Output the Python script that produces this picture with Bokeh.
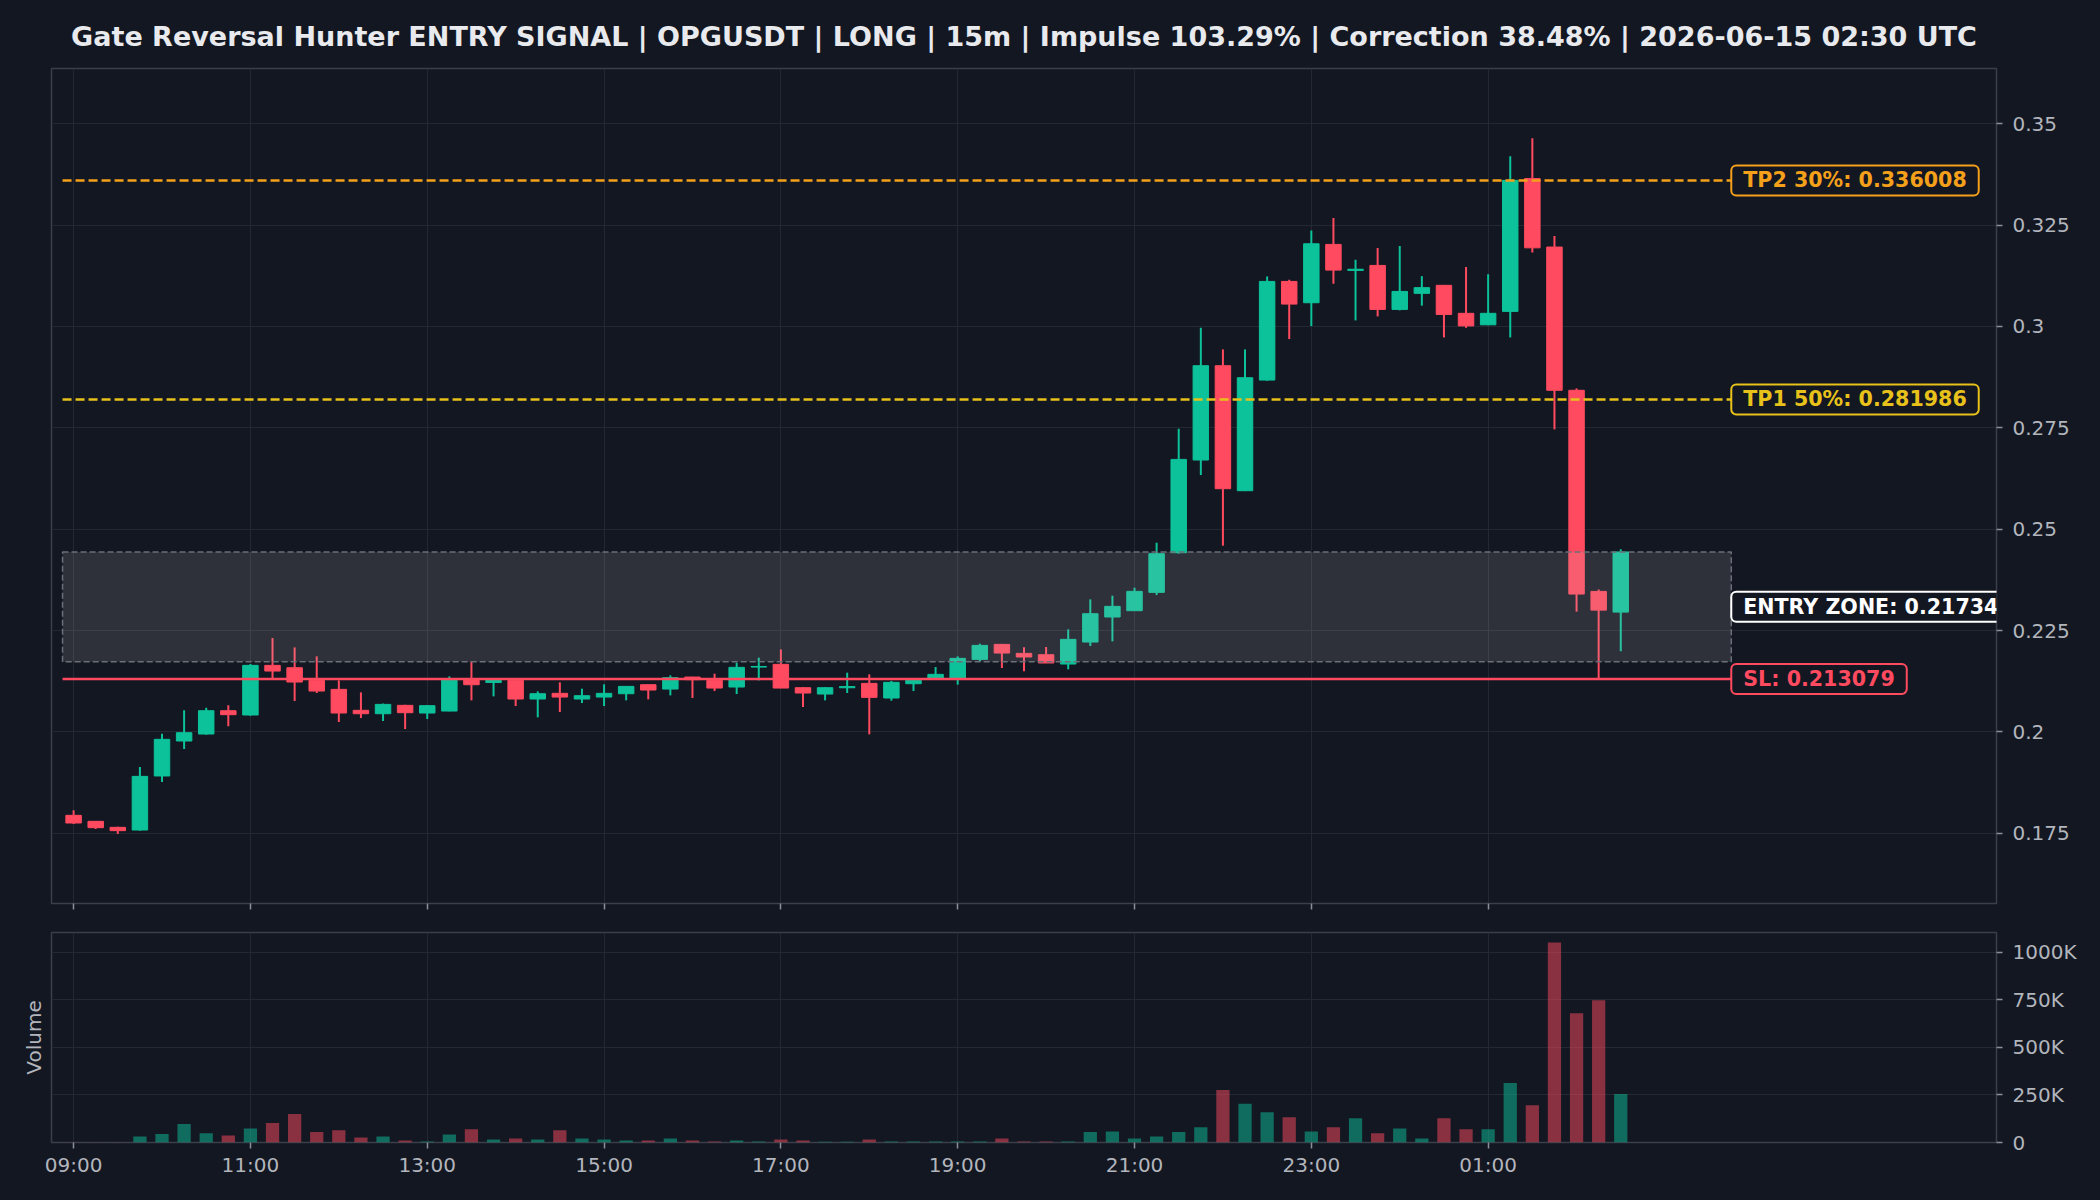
from bokeh.plotting import figure
from bokeh.models import Range1d, FixedTicker, LinearAxis
from bokeh.layouts import column
from bokeh.embed import file_html
from bokeh.resources import INLINE
from bokeh.core.properties import value

# ---------------- data ----------------
opens = [0.17944, 0.17796, 0.17648, 0.17582, 0.18914, 0.19777, 0.19949, 0.20524, 0.20418, 0.21642,
         0.21584, 0.21272, 0.21050, 0.20533, 0.20450, 0.20656, 0.20467, 0.20516, 0.21313, 0.21220,
         0.21272, 0.20812, 0.20952, 0.20812, 0.20861, 0.20943, 0.21165, 0.21058, 0.21354, 0.21272,
         0.21108, 0.21600, 0.21667, 0.21091, 0.20935, 0.21090, 0.21198, 0.20837, 0.21190, 0.21314,
         0.21314, 0.21790, 0.22160, 0.21938, 0.21905, 0.21675, 0.22217, 0.22834, 0.22990, 0.23442,
         0.24420, 0.26705, 0.29031, 0.25949, 0.28677, 0.31110, 0.30584, 0.32022, 0.31380, 0.31504,
         0.30419, 0.30815, 0.31013, 0.30323, 0.30040, 0.30371, 0.33648, 0.31957, 0.28425, 0.23466,
         0.22956]
highs = [0.18067, 0.17800, 0.17660, 0.19136, 0.19957, 0.20533, 0.20598, 0.20656, 0.21675, 0.22316,
         0.22086, 0.21864, 0.21272, 0.20976, 0.20700, 0.20670, 0.20660, 0.21371, 0.21741, 0.21300,
         0.21280, 0.21001, 0.21223, 0.21067, 0.21174, 0.21130, 0.21170, 0.21395, 0.21360, 0.21437,
         0.21708, 0.21831, 0.22036, 0.21100, 0.21100, 0.21461, 0.21420, 0.21260, 0.21280, 0.21601,
         0.21864, 0.22176, 0.22170, 0.22086, 0.22094, 0.22530, 0.23269, 0.23360, 0.23557, 0.24666,
         0.27477, 0.29967, 0.29433, 0.29433, 0.31233, 0.31151, 0.32367, 0.32671, 0.31644, 0.31931,
         0.31981, 0.31240, 0.31020, 0.31466, 0.31287, 0.34196, 0.34640, 0.32231, 0.28472, 0.23513,
         0.24505]
lows = [0.17730, 0.17607, 0.17484, 0.17566, 0.18766, 0.19579, 0.19930, 0.20138, 0.20400, 0.21289,
        0.20763, 0.20960, 0.20245, 0.20343, 0.20270, 0.20072, 0.20319, 0.20510, 0.20779, 0.20878,
        0.20639, 0.20360, 0.20491, 0.20713, 0.20639, 0.20779, 0.20804, 0.20902, 0.20837, 0.21009,
        0.20935, 0.21272, 0.21080, 0.20615, 0.20779, 0.20960, 0.19941, 0.20770, 0.21009, 0.21310,
        0.21166, 0.21749, 0.21576, 0.21494, 0.21700, 0.21544, 0.22119, 0.22234, 0.22990, 0.23376,
        0.24400, 0.26335, 0.24593, 0.25940, 0.28660, 0.29688, 0.30008, 0.31052, 0.30148, 0.30247,
        0.30395, 0.30512, 0.29728, 0.29965, 0.30030, 0.29728, 0.31825, 0.27461, 0.22966, 0.21310,
        0.21990]
closes = [0.17755, 0.17640, 0.17566, 0.18905, 0.19818, 0.19982, 0.20524, 0.20426, 0.21642, 0.21502,
          0.21231, 0.21009, 0.20467, 0.20450, 0.20680, 0.20475, 0.20648, 0.21313, 0.21165, 0.21270,
          0.20812, 0.20943, 0.20861, 0.20894, 0.20952, 0.21124, 0.21034, 0.21338, 0.21289, 0.21083,
          0.21593, 0.21615, 0.21083, 0.20960, 0.21091, 0.21120, 0.20853, 0.21223, 0.21272, 0.21420,
          0.21815, 0.22135, 0.21946, 0.21848, 0.21700, 0.22283, 0.22916, 0.23097, 0.23467, 0.24395,
          0.26721, 0.29031, 0.25998, 0.28735, 0.31110, 0.30551, 0.32038, 0.31389, 0.31410, 0.30419,
          0.30863, 0.30956, 0.30295, 0.30012, 0.30323, 0.33601, 0.31938, 0.28425, 0.23400, 0.23004,
          0.24439]
volumes = [1500, 1200, 1000, 32000, 44000, 97000, 48000, 37000, 74000, 102000,
           150000, 55000, 64000, 26500, 32000, 10600, 5000, 42000, 69000, 16000,
           21000, 16000, 64000, 21000, 16000, 10600, 10600, 21000, 10600, 5000,
           10600, 5000, 16000, 10600, 4000, 4000, 16000, 5000, 5000, 5000,
           5000, 5000, 21000, 5000, 5000, 5000, 55000, 58000, 21000, 32000,
           55000, 80000, 276000, 203000, 159000, 133000, 58000, 80000, 127000, 48000,
           74000, 21000, 127000, 69000, 69000, 313000, 196000, 1050000, 679000, 747000,
           254000]

x_tick_pos = [0, 8, 16, 24, 32, 40, 48, 56, 64]
x_tick_labels = ["09:00", "11:00", "13:00", "15:00", "17:00", "19:00", "21:00", "23:00", "01:00"]
y_ticks = [0.175, 0.2, 0.225, 0.25, 0.275, 0.3, 0.325, 0.35]
y_tick_labels = ["0.175", "0.2", "0.225", "0.25", "0.275", "0.3", "0.325", "0.35"]
vol_ticks = [0, 250000, 500000, 750000, 1000000]
vol_tick_labels = ["0", "250K", "500K", "750K", "1000K"]

tp2 = 0.336008
tp1 = 0.281986
sl = 0.213079
entry_low = 0.21734
entry_high = 0.24439

title = ("Gate Reversal Hunter ENTRY SIGNAL | OPGUSDT | LONG | 15m | Impulse 103.29% | "
         "Correction 38.48% | 2026-06-15 02:30 UTC")

# ---------------- style ----------------
BG = "#131722"
GREEN = "#0cc29a"
RED = "#ff4a5f"
ORANGE = "#f5a01a"
YELLOW = "#e8c21a"
GRID = "#242832"
FRAME = "#3a3f4a"
TICKC = "#b2b5bc"
FONT = "DejaVu Sans"

xs = list(range(len(opens)))
colors = [GREEN if c >= o else RED for o, c in zip(opens, closes)]
tops = [max(o, c) for o, c in zip(opens, closes)]
bottoms = [min(o, c) for o, c in zip(opens, closes)]

x_range = Range1d(-1, 87)

p = figure(width=2100, height=920, x_range=x_range, y_range=Range1d(0.1577, 0.3636),
           output_backend="svg", toolbar_location=None, y_axis_location="right",
           min_border_left=51, min_border_right=104, min_border_top=68, min_border_bottom=17,
           background_fill_color=BG, border_fill_color=BG, outline_line_color=FRAME,
           outline_line_width=1.5)
p.title.text = title
p.title.text_font = FONT
p.title.text_font_size = "27px"
p.title.text_font_style = "bold"
p.title.text_color = "#e8eaed"
p.title.align = "center"
p.title.standoff = 33

# main x axis: tick marks only (labels not drawn)
p.xaxis.ticker = FixedTicker(ticks=x_tick_pos)
p.xaxis.major_label_text_color = None
p.xaxis.major_label_text_font_size = "2px"
p.xaxis.major_label_standoff = 0
p.xaxis.axis_line_color = None
p.xaxis.major_tick_line_color = "#8a8f98"
p.xaxis.major_tick_line_width = 1.5
p.xaxis.major_tick_out = 6
p.xaxis.major_tick_in = 0
p.xaxis.minor_tick_line_color = None

p.yaxis.ticker = FixedTicker(ticks=y_ticks)
p.yaxis.major_label_overrides = dict(zip(y_ticks, y_tick_labels))
p.yaxis.axis_line_color = None
p.yaxis.major_tick_line_color = "#8a8f98"
p.yaxis.major_tick_line_width = 1.5
p.yaxis.major_tick_out = 6
p.yaxis.major_tick_in = 0
p.yaxis.minor_tick_line_color = None
p.yaxis.major_label_text_font = FONT
p.yaxis.major_label_text_font_size = "20px"
p.yaxis.major_label_text_color = TICKC
p.yaxis.major_label_standoff = 10

p.xgrid.grid_line_color = GRID
p.ygrid.grid_line_color = GRID

# candles
p.segment(x0=xs, y0=lows, x1=xs, y1=highs, line_color=colors, line_width=2)
p.vbar(x=xs, width=0.7, top=tops, bottom=bottoms, fill_color=colors, line_color=colors, line_width=1)

# entry zone
p.quad(left=[-0.5], right=[75], bottom=[entry_low], top=[entry_high],
       fill_color="#c8c8c8", fill_alpha=0.15, line_color="#6b6f78", line_width=1.5, line_dash="6 3")

# levels
p.segment(x0=[-0.5], y0=[tp2], x1=[75], y1=[tp2], line_color=ORANGE, line_width=2.5, line_dash="9 4")
p.segment(x0=[-0.5], y0=[tp1], x1=[75], y1=[tp1], line_color=YELLOW, line_width=2.5, line_dash="9 4")
p.segment(x0=[-0.5], y0=[sl], x1=[75], y1=[sl], line_color=RED, line_width=2.5)


def add_label(y, txt, col):
    kw = dict(x=[75], y=[y], text=[txt], text_color=col, text_font=value(FONT),
              text_font_size="20.6px", text_font_style="bold", text_align="left",
              text_baseline="middle", background_fill_color=BG, background_fill_alpha=0.9,
              border_line_color=col, border_line_width=2, border_radius=5, x_offset=0)
    try:
        p.text(padding=dict(x=12, y=3), **kw)
    except Exception:
        p.text(padding=4, **kw)


add_label(tp2, f"TP2 30%: {tp2:.6f}", ORANGE)
add_label(tp1, f"TP1 50%: {tp1:.6f}", YELLOW)
add_label((entry_low + entry_high) / 2, f"ENTRY ZONE: {entry_low:.5f}", "#ffffff")
add_label(sl, f"SL: {sl:.6f}", RED)

# ---------------- volume ----------------
p2 = figure(width=2100, height=280, x_range=x_range, y_range=Range1d(0, 1102500),
            output_backend="svg", toolbar_location=None, y_axis_location="right",
            min_border_left=51, min_border_right=104, min_border_top=12, min_border_bottom=58,
            background_fill_color=BG, border_fill_color=BG, outline_line_color=FRAME,
            outline_line_width=1.5)
p2.vbar(x=xs, width=0.6, top=volumes, bottom=0, fill_color=colors, fill_alpha=0.5, line_color=None)

p2.xaxis.ticker = FixedTicker(ticks=x_tick_pos)
p2.xaxis.major_label_overrides = dict(zip(x_tick_pos, x_tick_labels))
p2.yaxis.ticker = FixedTicker(ticks=vol_ticks)
p2.yaxis.major_label_overrides = dict(zip(vol_ticks, vol_tick_labels))
for ax in (p2.xaxis[0], p2.yaxis[0]):
    ax.axis_line_color = None
    ax.major_tick_line_color = "#8a8f98"
    ax.major_tick_line_width = 1.5
    ax.major_tick_out = 6
    ax.major_tick_in = 0
    ax.minor_tick_line_color = None
    ax.major_label_text_font = FONT
    ax.major_label_text_font_size = "20px"
    ax.major_label_text_color = TICKC
p2.yaxis.major_label_standoff = 10
p2.xaxis.major_label_standoff = 4
p2.xgrid.grid_line_color = GRID
p2.ygrid.grid_line_color = GRID

lax = LinearAxis(axis_label="Volume", ticker=FixedTicker(ticks=[]),
                 major_label_text_color=None, major_label_text_font_size="2px",
                 axis_line_color=None,
                 major_tick_line_color=None, minor_tick_line_color=None,
                 axis_label_text_font=FONT, axis_label_text_font_size="20px",
                 axis_label_text_font_style="normal", axis_label_text_color=TICKC,
                 axis_label_standoff=6)
p2.add_layout(lax, "left")

layout = column(p, p2, spacing=0, styles={"background-color": BG})
open("out.html", "w").write(file_html(layout, INLINE))
